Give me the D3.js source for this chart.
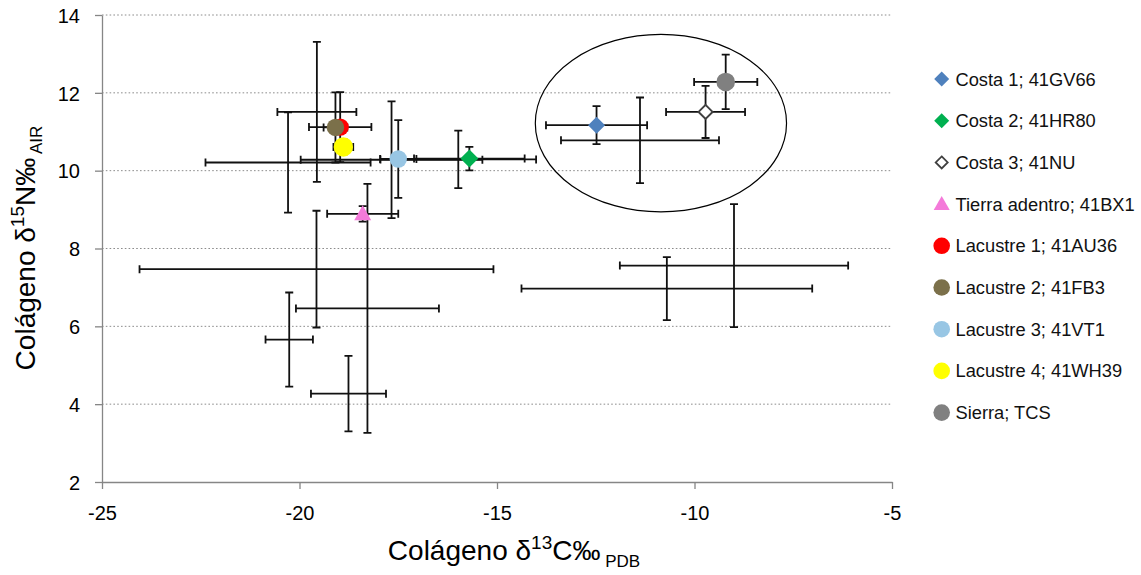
<!DOCTYPE html>
<html><head><meta charset="utf-8">
<script src="https://cdn.jsdelivr.net/npm/d3@7"></script>
<style>body{margin:0;background:#fff}svg{display:block}</style>
</head><body><svg id="c" width="1141" height="575"></svg>
<script>
// ---- data ----
const seriesNames = ["Costa 1; 41GV66","Costa 2; 41HR80","Costa 3; 41NU","Tierra adentro; 41BX1",
  "Lacustre 1; 41AU36","Lacustre 2; 41FB3","Lacustre 3; 41VT1","Lacustre 4; 41WH39","Sierra; TCS"];
const costa1 = [{x:-12.48, y:11.17, ex:1.28, ey:0.49}];
const costa2 = [{x:-15.70, y:10.31, ex:1.40, ey:0.30}];
const costa3 = [{x:-9.72, y:11.51, ex:1.00, ey:0.67}];
const tierraAdentro = [{x:-18.40, y:8.89, ex:0.90, ey:0.20}];
const lacustre1 = [{x:-18.97, y:11.12, ex:0.79, ey:0.90}];
const lacustre2 = [{x:-19.09, y:11.11, ex:0.30, ey:0.90}];
const lacustre3 = [{x:-17.50, y:10.30, ex:0.46, ey:1.00}];
const lacustre4 = [{x:-18.89, y:10.61, ex:0.25, ey:0.20}];
const sierra = [{x:-9.21, y:12.28, ex:0.80, ey:0.70}];
// error crosses drawn without marker (no legend entry)
const otros = [
  {x:-11.38, y:10.78, ex:2.00, ey:1.10},
  {x:-20.29, y:10.21, ex:2.09, ey:1.29},
  {x:-19.56, y:11.51, ex:1.00, ey:1.80},
  {x:-17.67, y:10.28, ex:2.30, ey:1.50},
  {x:-15.98, y:10.29, ex:1.97, ey:0.74},
  {x:-19.57, y:7.47, ex:4.48, ey:1.50},
  {x:-20.26, y:5.66, ex:0.60, ey:1.21},
  {x:-18.76, y:4.27, ex:0.95, ey:0.97},
  {x:-18.28, y:6.46, ex:1.81, ey:3.20},
  {x:-9.00, y:7.56, ex:2.89, ey:1.58},
  {x:-10.70, y:6.97, ex:3.68, ey:0.81}
];
const highlightArea = [{x:-10.85, y:11.22, rx:3.18, ry:2.28}];
const xTickValues = [-25,-20,-15,-10,-5];
const yTickValues = [2,4,6,8,10,12,14];
const xDomain = [-25,-5], yDomain = [2,14];

// ---- styles ----
const seriesData = [costa1,costa2,costa3,tierraAdentro,lacustre1,lacustre2,lacustre3,lacustre4,sierra];
const styles = [
  {shape:"diamond", fill:"#4f81bd", stroke:"none", size:8.5},
  {shape:"diamond", fill:"#00b050", stroke:"none", size:9},
  {shape:"diamond", fill:"#fff", stroke:"#404040", size:7},
  {shape:"triangle", fill:"#f47ad9", stroke:"none", size:8.5},
  {shape:"circle", fill:"#ff0000", stroke:"none", size:8.7},
  {shape:"circle", fill:"#7b704a", stroke:"none", size:8.7},
  {shape:"circle", fill:"#98c6e4", stroke:"none", size:8.7},
  {shape:"circle", fill:"#ffff00", stroke:"none", size:9.7},
  {shape:"circle", fill:"#808080", stroke:"none", size:9.3}
];
const legendSize = [7.5,7.5,6,8,8.3,8.3,8.3,8.3,8.3];

const svg = d3.select("#c");
const x = d3.scaleLinear().domain(xDomain).range([102,892]);
const y = d3.scaleLinear().domain(yDomain).range([482,15]);
const FONT = "'Liberation Sans', Arial, sans-serif";

// gridlines
svg.append("g").selectAll("line").data(yTickValues.filter(v=>v>yDomain[0])).join("line")
  .attr("x1",x(xDomain[0])).attr("x2",x(xDomain[1]))
  .attr("y1",d=>y(d)).attr("y2",d=>y(d))
  .attr("stroke","#8c8c8c").attr("stroke-width",1).attr("stroke-dasharray","1.6,2.2");

// axes
const fmt = d => String(d);
const xAxis = d3.axisBottom(x).tickValues(xTickValues).tickSize(7).tickSizeOuter(0).tickFormat(fmt);
const yAxis = d3.axisLeft(y).tickValues(yTickValues).tickSize(7).tickSizeOuter(0).tickFormat(fmt);
const gx = svg.append("g").attr("transform",`translate(0,${y(yDomain[0])})`).call(xAxis);
const gy = svg.append("g").attr("transform",`translate(${x(xDomain[0])},0)`).call(yAxis);
[gx,gy].forEach(g=>{
  g.select(".domain").attr("stroke","#868686").attr("stroke-width",1.3);
  g.selectAll(".tick line").attr("stroke","#868686").attr("stroke-width",1.3);
  g.selectAll(".tick text").attr("font-family",FONT).attr("font-size",20).attr("fill","#000");
});
gx.selectAll(".tick text").attr("dy",0).attr("y",38);
gy.selectAll(".tick text").attr("x",-22).attr("dy","0.36em");

// error bars
const errG = svg.append("g").attr("stroke","#111").attr("stroke-width",1.8).attr("fill","none");
const cap = 4;
function drawErr(d){
  const cx=x(d.x), cy=y(d.y), x0=x(d.x-d.ex), x1=x(d.x+d.ex), y0=y(d.y+d.ey), y1=y(d.y-d.ey);
  const p = d3.path();
  p.moveTo(x0,cy); p.lineTo(x1,cy);
  p.moveTo(x0,cy-cap); p.lineTo(x0,cy+cap);
  p.moveTo(x1,cy-cap); p.lineTo(x1,cy+cap);
  p.moveTo(cx,y0); p.lineTo(cx,y1);
  p.moveTo(cx-cap,y0); p.lineTo(cx+cap,y0);
  p.moveTo(cx-cap,y1); p.lineTo(cx+cap,y1);
  errG.append("path").attr("d",p.toString());
}
otros.forEach(drawErr);
seriesData.forEach(s=>s.forEach(drawErr));

// marker shapes
function shapePath(shape,r){
  const p=d3.path();
  if(shape==="diamond"){p.moveTo(0,-r);p.lineTo(r,0);p.lineTo(0,r);p.lineTo(-r,0);p.closePath();}
  else if(shape==="triangle"){p.moveTo(0,-r);p.lineTo(r,r*0.75);p.lineTo(-r,r*0.75);p.closePath();}
  else {p.arc(0,0,r,0,2*Math.PI);p.closePath();}
  return p.toString();
}
const mk = svg.append("g");
seriesData.forEach((s,i)=>{
  const st=styles[i];
  mk.selectAll(null).data(s).join("path")
    .attr("transform",d=>`translate(${x(d.x)},${y(d.y)})`)
    .attr("d",shapePath(st.shape,st.size))
    .attr("fill",st.fill).attr("stroke",st.stroke).attr("stroke-width",st.stroke==="none"?0:2);
});

// highlight ellipse
svg.append("g").selectAll("ellipse").data(highlightArea).join("ellipse")
  .attr("cx",d=>x(d.x)).attr("cy",d=>y(d.y))
  .attr("rx",d=>x(d.x+d.rx)-x(d.x)).attr("ry",d=>y(d.y-d.ry)-y(d.y))
  .attr("fill","none").attr("stroke","#000").attr("stroke-width",1.2);

// legend
const lg = svg.append("g");
seriesNames.forEach((n,i)=>{
  const ly = 79 + i*41.7;
  const st = styles[i];
  lg.append("path").attr("transform",`translate(941.7,${ly})`)
    .attr("d",shapePath(st.shape,legendSize[i]))
    .attr("fill",st.fill).attr("stroke",st.stroke).attr("stroke-width",st.stroke==="none"?0:1.8);
  lg.append("text").attr("x",955.5).attr("y",ly).attr("dy","0.36em")
    .attr("font-family",FONT).attr("font-size",18.3).attr("fill","#111").text(n);
});

// axis titles
const xt = svg.append("text").attr("x",514).attr("y",560).attr("text-anchor","middle")
  .attr("font-family",FONT).attr("font-size",28).attr("fill","#000");
xt.append("tspan").text("Colágeno δ");
xt.append("tspan").attr("font-size",19).attr("dy",-11).text("13");
xt.append("tspan").attr("dy",11).text("C‰");
xt.append("tspan").attr("font-size",17).attr("dy",7).text(" PDB");

const yt = svg.append("text").attr("transform","translate(35,248) rotate(-90)").attr("text-anchor","middle")
  .attr("font-family",FONT).attr("font-size",28).attr("fill","#000");
yt.append("tspan").text("Colágeno δ");
yt.append("tspan").attr("font-size",19).attr("dy",-11).text("15");
yt.append("tspan").attr("dy",11).text("N‰");
yt.append("tspan").attr("font-size",17).attr("dy",7).text(" AIR");
</script></body></html>
